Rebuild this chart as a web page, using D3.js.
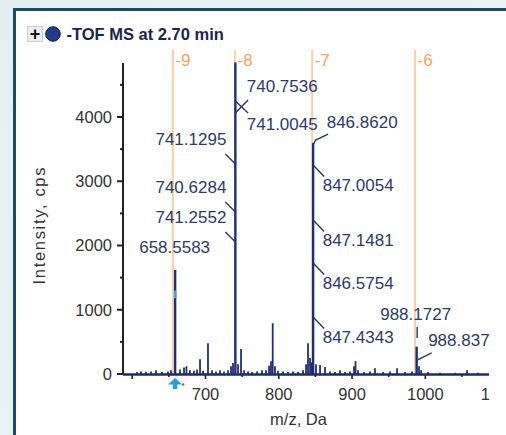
<!DOCTYPE html>
<html><head><meta charset="utf-8">
<script src="https://cdn.jsdelivr.net/npm/d3@7"></script>
<style>
html,body{margin:0;padding:0;background:#e8f2f6;}
svg{display:block;}
text{font-family:"Liberation Sans",Arial,sans-serif;}
</style></head>
<body>
<svg id="chart" width="506" height="435"></svg>
<script>
// ---- data ----
const mainPeakMz = [658.5583, 740.7536, 846.8620, 988.1727];
const mainPeakIntensity = [1620, 4850, 3595, 425];
const minorPeakMz = [606.5, 612, 618.8, 625.6, 632.4, 640.6, 648.8, 652.9, 665.2, 670.7, 674, 678.8, 684.3, 688.4, 692.5, 696.6, 703.4, 708.9, 714.3, 719.8, 725.2, 730.7, 734.8, 737.5, 744.4, 748.5, 752.6, 758.1, 763.5, 770.3, 777.1, 782.6, 786.7, 789.4, 791.7, 794.8, 798.9, 805.8, 812.6, 819.4, 826.2, 833.1, 837.2, 839.9, 842.7, 844.7, 850.8, 856.3, 863.1, 869.9, 876.7, 883.6, 890.4, 897.2, 902.7, 904.7, 908.1, 916.3, 924.5, 931.3, 942.3, 951.8, 961.4, 972.3, 981.9, 991.4, 994.2, 1003.7, 1020.1, 1040.5, 1056.9, 1071.9];
const minorPeakIntensity = [30, 40, 35, 40, 60, 30, 40, 60, 70, 100, 120, 60, 50, 70, 230, 50, 480, 60, 40, 60, 40, 60, 120, 170, 150, 390, 60, 40, 30, 40, 60, 60, 130, 200, 790, 120, 50, 40, 30, 40, 30, 60, 150, 480, 250, 180, 150, 140, 110, 40, 30, 60, 30, 40, 120, 200, 60, 30, 40, 90, 30, 40, 90, 30, 40, 120, 60, 30, 20, 20, 60, 20];
const chargeLabels = ["-9", "-8", "-7", "-6"];
const chargeMz = [655.5, 740.3, 845.6, 986.0];
const annotLabels = ["740.7536", "741.0045", "741.1295", "740.6284", "741.2552", "658.5583", "846.8620", "847.0054", "847.1481", "846.5754", "847.4343", "988.1727", "988.837"];
const annotPeakMz = [740.7536, 740.7536, 740.7536, 740.7536, 740.7536, 658.5583, 846.8620, 846.8620, 846.8620, 846.8620, 846.8620, 988.1727, 988.1727];
const annotIntensity = [4062, 4249, 3268, 2521, 2054, 1700, 3564, 3253, 2397, 1728, 887, 560, 218];
const yTickValues = [0, 1000, 2000, 3000, 4000];
const yMinorTicks = [500, 1500, 2500, 3500, 4500];
const xTickLabels = [700, 800, 900, 1000, 1100];
const xAllTicks = [600, 650, 700, 750, 800, 850, 900, 950, 1000, 1050];
const title = "-TOF MS at 2.70 min";
const xTitle = "m/z, Da";
const yTitle = "Intensity, cps";

// ---- layout (label offsets relative to anchor point, px) ----
const annotLayout = {
  "740.7536": {lead: [[0,0],[12.7,-13]], tx: 11.4, ty: -21, anchor: "start"},
  "741.0045": {lead: [[0,0],[12.7,12]], tx: 11.4, ty: 29, anchor: "start"},
  "741.1295": {lead: [[0,0],[-10,-10]], tx: -9, ty: -19, anchor: "end"},
  "740.6284": {lead: [[0,0],[-10,-10]], tx: -9, ty: -19, anchor: "end"},
  "741.2552": {lead: [[0,0],[-10,-10]], tx: -9, ty: -19, anchor: "end"},
  "658.5583": {lead: null, tx: -0.5, ty: -12, anchor: "middle"},
  "846.8620": {lead: [[0,0],[2.5,-5],[15,-11]], tx: 13.6, ty: -17, anchor: "start"},
  "847.0054": {lead: [[0,0],[11,11.5]], tx: 9.6, ty: 26, anchor: "start"},
  "847.1481": {lead: [[0,0],[11,11.5]], tx: 9.6, ty: 26, anchor: "start"},
  "846.5754": {lead: [[0,0],[11,11.5]], tx: 9.6, ty: 26, anchor: "start"},
  "847.4343": {lead: [[0,0],[11,11.5]], tx: 9.6, ty: 26, anchor: "start"},
  "988.1727": {lead: [[0.5,0],[0.5,-11]], tx: -1, ty: -18, anchor: "middle"},
  "988.837": {lead: [[1,0],[15,-7]], tx: 11.5, ty: -14, anchor: "start"}
};

const svg = d3.select("#chart");
const W = 506, H = 435;

// background + panel
const defs = svg.append("defs");
const grad = defs.append("linearGradient").attr("id","bg").attr("x1","0").attr("y1","0").attr("x2","1").attr("y2","1");
grad.append("stop").attr("offset","0").attr("stop-color","#e3eff3");
grad.append("stop").attr("offset","1").attr("stop-color","#eef6f8");
svg.append("rect").attr("width",W).attr("height",H).attr("fill","url(#bg)");
svg.append("rect").attr("x",14.5).attr("y",9.5).attr("width",W).attr("height",H)
  .attr("fill","#ffffff").attr("stroke","#1b4c64").attr("stroke-width",3);

defs.append("clipPath").attr("id","clipx").append("rect").attr("x",14).attr("y",0).attr("width",475.5).attr("height",H);

// scales
const x = d3.scaleLinear().domain([587.4, 1086.9]).range([123, 489]);
const y = d3.scaleLinear().domain([0, 4000]).range([374, 117]);
const yTop = 4840;

// title
const tg = svg.append("g");
tg.append("rect").attr("x",27.5).attr("y",26.5).attr("width",15).attr("height",15).attr("fill","#eeeeee").attr("stroke","#d0d0d0");
tg.append("text").attr("x",35).attr("y",39.5).attr("text-anchor","middle").attr("font-size",18).attr("font-weight","bold").attr("fill","#111").text("+");
tg.append("circle").attr("cx",53).attr("cy",34).attr("r",7.3).attr("fill","#233a86").attr("stroke","#111a44").attr("stroke-width",1);
tg.append("text").attr("x",66.5).attr("y",39.5).attr("font-size",16.5).attr("font-weight","bold").attr("fill","#1c2549").text(title);

// charge state lines
const cg = svg.append("g");
chargeMz.forEach((m,i)=>{
  cg.append("line").attr("x1",x(m)).attr("x2",x(m)).attr("y1",50).attr("y2",374)
    .attr("stroke","#fbd0a6").attr("stroke-width",2);
  cg.append("text").attr("x",x(m)+2.5).attr("y",66).attr("font-size",17).attr("fill","#f4a35e").text(chargeLabels[i]);
});

// y axis
const ya = svg.append("g");
ya.append("line").attr("x1",123).attr("x2",123).attr("y1",y(yTop)).attr("y2",375).attr("stroke","#222").attr("stroke-width",2);
yTickValues.forEach(v=>{
  ya.append("line").attr("x1",117).attr("x2",123).attr("y1",y(v)).attr("y2",y(v)).attr("stroke","#222").attr("stroke-width",2);
  ya.append("text").attr("x",112).attr("y",y(v)).attr("dy","0.36em").attr("text-anchor","end").attr("font-size",16.5).attr("fill","#333").text(d3.format("d")(v));
});
yMinorTicks.forEach(v=>{
  ya.append("line").attr("x1",120).attr("x2",123).attr("y1",y(v)).attr("y2",y(v)).attr("stroke","#222").attr("stroke-width",2);
});
ya.append("text").attr("transform","translate(45,"+226+") rotate(-90)").attr("text-anchor","middle")
  .attr("font-size",16.5).attr("textLength",117).attr("lengthAdjust","spacing").attr("fill","#333").text(yTitle);

// x axis
const xa = svg.append("g");
xAllTicks.forEach(v=>{
  const major = v % 100 === 0;
  xa.append("line").attr("x1",x(v)).attr("x2",x(v)).attr("y1",374).attr("y2",major?379:377).attr("stroke","#222").attr("stroke-width",1.6);
});
const xl = xa.append("g").attr("clip-path","url(#clipx)");
xTickLabels.forEach(v=>{
  xl.append("text").attr("x",x(v)).attr("y",399.5).attr("text-anchor","middle").attr("font-size",16.5).attr("fill","#333").text(v);
});
xa.append("text").attr("x",298.5).attr("y",424.5).attr("text-anchor","middle").attr("font-size",16.5).attr("fill","#333").text(xTitle);

// spectrum sticks
const sg = svg.append("g");
minorPeakMz.forEach((m,i)=>{
  sg.append("line").attr("x1",x(m)).attr("x2",x(m)).attr("y1",374).attr("y2",y(minorPeakIntensity[i]))
    .attr("stroke","#1f2f77").attr("stroke-width",1.8);
});
mainPeakMz.forEach((m,i)=>{
  sg.append("line").attr("x1",x(m)).attr("x2",x(m)).attr("y1",374).attr("y2",y(mainPeakIntensity[i]))
    .attr("stroke","#1f2f77").attr("stroke-width",2.4);
});
// precursor highlight on peak
sg.append("line").attr("x1",x(mainPeakMz[0])).attr("x2",x(mainPeakMz[0])).attr("y1",y(1300)).attr("y2",y(1180))
  .attr("stroke","#3aa6d8").attr("stroke-width",2.4);
// baseline
sg.append("line").attr("x1",123).attr("x2",489).attr("y1",374.5).attr("y2",374.5).attr("stroke","#1d2b6b").attr("stroke-width",2.6);

// precursor marker
const mx = x(mainPeakMz[0]);
svg.append("path").attr("d",`M${mx},378 L${mx+7},384.5 L${mx+2.2},384.5 L${mx+2.2},389 L${mx-2.2},389 L${mx-2.2},384.5 L${mx-7},384.5 Z`).attr("fill","#1ea2dc");
svg.append("circle").attr("cx",mx+8).attr("cy",384.5).attr("r",1.3).attr("fill","#e8413a");

// annotations
const ag = svg.append("g");
annotLabels.forEach((lab,i)=>{
  const L = annotLayout[lab];
  const ax = x(annotPeakMz[i]), ay = y(annotIntensity[i]);
  if (L.lead) {
    ag.append("path").attr("d", d3.line()(L.lead.map(p=>[ax+p[0], ay+p[1]])))
      .attr("fill","none").attr("stroke","#2b3566").attr("stroke-width",1.4);
  }
  ag.append("text").attr("x",ax+L.tx).attr("y",ay+L.ty).attr("text-anchor",L.anchor)
    .attr("font-size",17).attr("fill","#2c3a6a").text(lab);
});
</script>
</body></html>
